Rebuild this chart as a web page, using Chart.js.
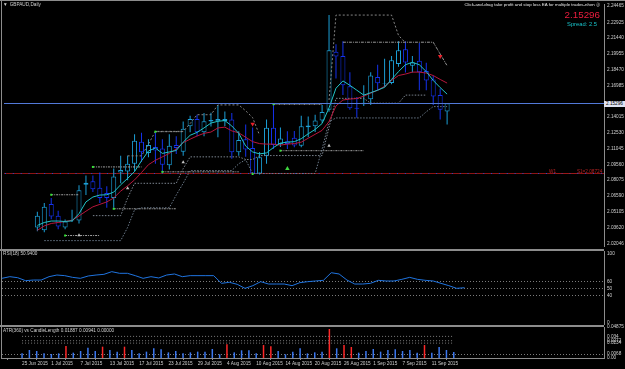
<!DOCTYPE html>
<html>
<head>
<meta charset="utf-8">
<title>GBPAUD,Daily</title>
<script src="https://cdn.jsdelivr.net/npm/chart.js@4.4.1/dist/chart.umd.min.js"></script>
<style>
  html, body { margin: 0; padding: 0; background: #000; }
  #wrap { position: relative; width: 625px; height: 369px; background: #000; overflow: hidden;
          font-family: "Liberation Sans", Arial, "DejaVu Sans", sans-serif; }
  #wrap canvas { position: absolute; left: 0; }
  .txt { position: absolute; white-space: nowrap; font-size: 4.7px; line-height: 1; color: #cfcfcf; }
  .rule { position: absolute; background: #8c8c8c; }
</style>
</head>
<body>
<div id="wrap">
  <canvas id="mainChart" width="625" height="250" style="top:0"></canvas>
  <canvas id="rsiChart" width="625" height="74" style="top:251px"></canvas>
  <canvas id="atrChart" width="625" height="49" style="top:320px"></canvas>

  <div class="rule" style="left:0;top:0;width:625px;height:1px"></div>
  <div class="rule" style="left:1px;top:0;width:1px;height:359px"></div>
  <div class="rule" style="left:0;top:249px;width:604px;height:2px"></div>
  <div class="rule" style="left:0;top:325px;width:604px;height:2px"></div>

  <div class="txt" style="left:3px;top:2.7px"><span style="margin-right:2px">▼</span>GBPAUD,Daily</div>
  <div class="txt" style="right:25px;top:2.7px;font-size:4.4px;color:#e6e6e6">Click-and-drag take profit and stop loss EA for multiple trades-nhen ⓢ</div>
  <div class="txt" style="right:25px;top:10px;font-size:9.8px;color:#ee1d3f">2.15296</div>
  <div class="txt" style="right:28px;top:22.2px;font-size:5.8px;color:#18c2c9">Spread: 2.5</div>
  <div class="txt" style="left:549px;top:170px;color:#b42222">W1________S1=2.08724</div>
  <div class="txt" style="left:604px;top:101.3px;width:21px;height:5.6px;line-height:5.6px;padding-left:2px;box-sizing:border-box;background:#dfe3f2;color:#000">2.15296</div>
  <div class="txt" style="left:3px;top:252.2px">RSI(18) 50.9400</div>
  <div class="txt" style="left:3px;top:328.7px">ATR(360) vs CandleLength 0.01887 0.00941 0.00000</div>
</div>

<script>
const _ = null;

// daily bars
const dates = ['25 Jun 2015','26 Jun 2015','29 Jun 2015','30 Jun 2015','1 Jul 2015','2 Jul 2015','3 Jul 2015','6 Jul 2015','7 Jul 2015','8 Jul 2015',
  '9 Jul 2015','10 Jul 2015','13 Jul 2015','14 Jul 2015','15 Jul 2015','16 Jul 2015','17 Jul 2015','20 Jul 2015','21 Jul 2015','22 Jul 2015',
  '23 Jul 2015','24 Jul 2015','27 Jul 2015','28 Jul 2015','29 Jul 2015','30 Jul 2015','31 Jul 2015','3 Aug 2015','4 Aug 2015','5 Aug 2015',
  '6 Aug 2015','7 Aug 2015','10 Aug 2015','11 Aug 2015','12 Aug 2015','13 Aug 2015','14 Aug 2015','17 Aug 2015','18 Aug 2015','19 Aug 2015',
  '20 Aug 2015','21 Aug 2015','24 Aug 2015','25 Aug 2015','26 Aug 2015','27 Aug 2015','28 Aug 2015','31 Aug 2015','1 Sep 2015','2 Sep 2015',
  '3 Sep 2015','4 Sep 2015','7 Sep 2015','8 Sep 2015','9 Sep 2015','10 Sep 2015','11 Sep 2015','14 Sep 2015','15 Sep 2015','16 Sep 2015'];
const dateTickBars = [0, 4, 8, 12, 16, 20, 24, 28, 32, 36, 40, 44, 48, 52, 56];

const opens = [2.03614, 2.03337, 2.05828, 2.04721, 2.03614, 2.04260, 2.04260, 2.07628, 2.07950, 2.07351,
  2.06843, 2.06382, 2.08781, 2.08873, 2.09611, 2.11687, 2.10626, 2.11180, 2.11041, 2.09473,
  2.11364, 2.10746, 2.13145, 2.13809, 2.12563, 2.13578, 2.13606, 2.13624, 2.13763, 2.10691,
  2.11918, 2.11087, 2.08689, 2.10349, 2.12997, 2.11456, 2.11733, 2.12056, 2.11300, 2.13052,
  2.13145, 2.13671, 2.14685, 2.20156, 2.19760, 2.16900, 2.14870, 2.15211, 2.15673, 2.17776,
  2.17130, 2.17204, 2.18994, 2.20378, 2.18837, 2.19298, 2.18330, 2.17546, 2.16069, 2.14529];
const highs = [2.05090, 2.05921, 2.06382, 2.05183, 2.04352, 2.05275, 2.07581, 2.08504, 2.08504, 2.08781,
  2.07489, 2.09150, 2.10349, 2.10349, 2.12379, 2.12536, 2.11918, 2.12517, 2.11918, 2.12379,
  2.12194, 2.13578, 2.14132, 2.14224, 2.14381, 2.14409, 2.15147, 2.14529, 2.14381, 2.12656,
  2.13302, 2.13025, 2.10718, 2.13763, 2.15147, 2.13025, 2.12656, 2.12683, 2.14132, 2.14067,
  2.14224, 2.15147, 2.23607, 2.20867, 2.21144, 2.18219, 2.15885, 2.16992, 2.18219, 2.18929,
  2.19483, 2.19760, 2.21144, 2.21144, 2.19760, 2.20987, 2.19114, 2.17915, 2.16687, 2.15296];
const lows = [2.03245, 2.03153, 2.04380, 2.03430, 2.03430, 2.04122, 2.03983, 2.06659, 2.06936, 2.05921,
  2.05459, 2.05459, 2.07766, 2.08043, 2.08873, 2.09768, 2.10229, 2.09611, 2.08781, 2.09058,
  2.10534, 2.10349, 2.12563, 2.12194, 2.12194, 2.13117, 2.12102, 2.13145, 2.10072, 2.10349,
  2.10257, 2.08642, 2.08596, 2.09611, 2.10995, 2.11180, 2.10995, 2.11152, 2.11152, 2.12102,
  2.12591, 2.13458, 2.14501, 2.17638, 2.16069, 2.14685, 2.13947, 2.15054, 2.15147, 2.16531,
  2.16807, 2.17084, 2.18745, 2.18191, 2.18191, 2.16531, 2.16531, 2.15147, 2.13763, 2.13302];
const closes = [2.04721, 2.05552, 2.04629, 2.03707, 2.04168, 2.04325, 2.07120, 2.07812, 2.07212, 2.06382,
  2.06382, 2.08412, 2.09011, 2.09611, 2.11761, 2.10691, 2.11364, 2.10857, 2.09519, 2.11300,
  2.11087, 2.12905, 2.13827, 2.12563, 2.13606, 2.13717, 2.13809, 2.13809, 2.10691, 2.11853,
  2.10949, 2.08689, 2.10229, 2.12997, 2.11364, 2.11982, 2.11456, 2.11318, 2.13145, 2.13209,
  2.13671, 2.14473, 2.20286, 2.19695, 2.16992, 2.14842, 2.14796, 2.15359, 2.17915, 2.17176,
  2.17195, 2.19363, 2.20286, 2.19142, 2.19142, 2.18219, 2.17453, 2.15931, 2.14685, 2.15296];

// moving averages
const maFast = [2.03799, 2.04076, 2.04214, 2.04214, 2.04168, 2.04232, 2.04906, 2.06013, 2.06474, 2.06659,
  2.06687, 2.06936, 2.07628, 2.08227, 2.08873, 2.09888, 2.10811, 2.11087, 2.10580, 2.10718,
  2.10857, 2.11641, 2.12287, 2.12563, 2.12979, 2.13440, 2.13606, 2.13671, 2.13163, 2.12471,
  2.11272, 2.10718, 2.10534, 2.10626, 2.11133, 2.11549, 2.11641, 2.11687, 2.11964, 2.12425,
  2.12840, 2.13394, 2.14870, 2.16715, 2.17407, 2.16992, 2.16531, 2.16069, 2.16300, 2.16531,
  2.16807, 2.17546, 2.18284, 2.18929, 2.19160, 2.18929, 2.18284, 2.17453, 2.16780, 2.16162];
const maSlow = [2.03337, 2.03753, 2.03983, 2.04076, 2.04168, 2.04288, 2.04694, 2.05137, 2.05552, 2.05782,
  2.06013, 2.06382, 2.07028, 2.07535, 2.08089, 2.08781, 2.09519, 2.09934, 2.10257, 2.10580,
  2.10995, 2.11595, 2.11918, 2.12222, 2.12471, 2.12591, 2.12979, 2.13052, 2.12702, 2.12517,
  2.12102, 2.11687, 2.11502, 2.11456, 2.11456, 2.11364, 2.11456, 2.11502, 2.11641, 2.12010,
  2.12379, 2.12748, 2.13578, 2.15054, 2.15608, 2.15700, 2.15746, 2.15977, 2.16254, 2.16531,
  2.16900, 2.17453, 2.17915, 2.18053, 2.18237, 2.18237, 2.18145, 2.17915, 2.17546, 2.17204];

// stepped trailing lines
const trailUpper = [_,_,_,_,_,_,_,_,_,_,
  _,_,_,2.10349,2.10349,2.10349,2.11456,2.12656,2.12656,2.12656,
  2.12656,2.12656,2.13394,2.14224,2.14224,2.14224,2.15147,2.15147,2.15147,2.15147,
  2.14593,2.13947,2.12287,_,_,_,_,_,_,_,
  _,_,_,_,_,_,_,_,_,_,
  _,_,_,_,_,_,_,_,_,_];
const stopUpper = [_,_,_,_,_,_,_,_,_,_,
  _,_,_,_,_,_,_,_,_,_,
  _,_,_,_,_,_,_,_,_,_,
  _,_,_,_,_,_,_,_,_,_,
  _,_,2.15608,2.23607,2.23607,2.23607,2.23607,2.23607,2.23607,2.23607,
  2.23607,2.23607,2.21697,2.20997,_,_,_,_,_,_];
const bandUpper = [_,_,_,_,_,_,_,_,_,_,
  _,_,_,_,_,_,_,_,_,_,
  _,_,_,_,_,_,_,_,_,_,
  _,_,_,_,_,_,_,_,_,_,
  _,_,_,_,2.21051,2.21051,2.21051,2.21051,2.21051,2.21051,
  2.21051,2.21051,2.21051,2.21051,2.21051,2.21051,2.21051,2.21051,2.19944,2.18837];
const supportA = [_,_,_,_,_,_,_,_,2.04721,2.04721,
  2.04721,2.04721,2.04721,2.06382,2.07766,2.07766,2.07766,2.07766,2.07766,2.07766,
  2.07766,2.09150,2.10257,2.10257,2.10257,2.10257,2.10257,2.10257,2.10257,2.10257,
  2.10008,2.10008,2.10377,2.10377,2.10377,2.10377,2.10377,2.10377,2.10377,2.10377,
  2.10377,2.10377,2.13025,2.15765,2.15765,2.15765,2.15765,2.15765,2.15304,2.15304,
  2.15304,2.15304,2.15304,2.16069,2.16069,2.16069,2.16069,_,_,_];
const supportB = [_,2.02369,2.02369,2.02369,2.02369,2.02369,2.02369,2.02369,2.02369,2.02369,
  2.02369,2.02369,2.02369,2.03614,2.05275,2.05459,2.05459,2.05459,2.05459,2.05459,
  2.06659,2.07766,2.08965,2.08965,2.08965,2.08965,2.08965,2.08965,2.08965,2.09611,
  2.09980,2.08689,2.08689,2.08689,2.08689,2.08689,2.08689,2.08689,2.08689,2.08689,
  2.08689,2.10995,2.13578,2.13920,2.13920,2.13920,2.13920,2.13920,2.13920,2.13920,
  2.13920,2.13920,2.13920,2.13920,2.13920,2.13920,2.14501,2.14990,2.14990,2.14990];

// fractal levels and signals
const levelFrom = [2, 4, 8, 11, 17, 18, 34, 35];
const levelTo = [6, 9, 15, 20, 21, 29, 41, 47];
const levelPrice = [2.06687, 2.02848, 2.09307, 2.05367, 2.12628, 2.08845, 2.15211, 2.10838];
const signalBars = [2, 4, 8, 11, 17, 18, 31, 34, 35];
const signalPrices = [2.06687, 2.02848, 2.09307, 2.05367, 2.12628, 2.08845, 2.08642, 2.15211, 2.10838];
const sellBars = [31, 58];
const sellPrices = [2.13348, 2.19714];
const buyBars = [36];
const buyPrices = [2.09150];
const stopBars = [6, 13, 21, 42];
const stopPrices = [2.02876, 2.07305, 2.09750, 2.11300];

const bidPrice = 2.15296;
const pivotS1 = 2.08724;
const priceTicks = [2.02046, 2.03620, 2.05105, 2.06590, 2.08075, 2.09560, 2.11045, 2.12530, 2.14015,
  2.16985, 2.18470, 2.19955, 2.21440, 2.22925, 2.24465];

// RSI(18)
const rsi = [64.6, 67.0, 65.5, 61.2, 62.1, 62.1, 67.0, 69.4, 68.5, 66.0,
  64.6, 68.0, 69.4, 70.4, 74.3, 71.9, 71.9, 68.5, 64.6, 67.0,
  65.1, 69.4, 70.9, 67.0, 68.5, 68.5, 68.5, 68.5, 57.3, 58.8,
  55.9, 50.0, 53.9, 59.7, 56.3, 56.3, 56.3, 53.9, 58.3, 59.7,
  60.7, 61.7, 72.8, 70.9, 62.1, 56.3, 56.3, 57.3, 61.7, 60.7,
  60.7, 63.1, 66.0, 63.1, 61.7, 60.7, 57.3, 53.9, 50.0, 50.94];
const rsiLevels = [60, 50, 40];
const rsiTicks = [0, 40, 50, 60, 100];

// ATR vs candle length
const candleLen = [0.0073, 0.0126, 0.0110, 0.0073, 0.0063, 0.0073, 0.0189, 0.0084, 0.0110, 0.0163,
  0.0110, 0.0178, 0.0126, 0.0100, 0.0178, 0.0126, 0.0073, 0.0100, 0.0152, 0.0136,
  0.0089, 0.0110, 0.0073, 0.0089, 0.0100, 0.0100, 0.0142, 0.0058, 0.0215, 0.0089,
  0.0121, 0.0121, 0.0073, 0.0204, 0.0184, 0.0110, 0.0058, 0.0100, 0.0152, 0.0073,
  0.0089, 0.0100, 0.0456, 0.0152, 0.0204, 0.0173, 0.0084, 0.0110, 0.0142, 0.0100,
  0.0126, 0.0136, 0.0110, 0.0126, 0.0084, 0.0204, 0.0084, 0.0173, 0.0126, 0.00941];
const bigCandleBars = [6, 11, 14, 28, 33, 34, 42, 44, 45, 55];
const atrBands = [0.0340, 0.0272, 0.0234];
const atrFloor = 0.0068;
const atrTicks = [0, 0.0068, 0.0234, 0.0272, 0.0340, 0.04875];

// ---------------------------------------------------------------
Chart.defaults.font.family = '"Liberation Sans", Arial, sans-serif';
const GRID = '#8c8c8c';
const LABEL = '#cfcfcf';
const BULL = '#1c9fd6';
const BEAR = '#1432ee';
const X_MAX = 76.79;   // chart width / bar spacing

const pts = arr => arr.map((v, i) => ({x: i, y: v}));
const isUp = i => closes[i] >= opens[i];

function rightAxis(min, max, tickValues, fmt) {
  return {
    position: 'right', min: min, max: max,
    afterFit: s => { s.width = 21; s.paddingTop = 0; s.paddingBottom = 0; },
    afterBuildTicks: s => { s.ticks = tickValues.map(v => ({value: v})); },
    grid: {display: false, drawTicks: false},
    border: {display: true, color: GRID, width: 1},
    ticks: {color: LABEL, font: {size: 4.7}, padding: 3, autoSkip: false, callback: fmt}
  };
}

const baseOptions = (padding, scales) => ({
  responsive: false, animation: false, events: [],
  layout: {padding: padding},
  plugins: {legend: {display: false}, tooltip: {enabled: false}},
  scales: scales
});

const dotted = (arr, color, dash) => ({
  type: 'line', data: pts(arr), borderColor: color, borderWidth: 1, borderDash: dash,
  pointRadius: 0, spanGaps: false, order: 2
});
const marker = (bars, prices, style, color, radius, rotation) => ({
  type: 'line', data: bars.map((b, k) => ({x: b, y: prices[k]})), showLine: false,
  pointStyle: style, pointRadius: radius, pointRotation: rotation,
  pointBackgroundColor: color, pointBorderColor: color, pointBorderWidth: 0, order: 1
});

const priceLines = {
  id: 'priceLines',
  beforeDatasetsDraw(chart) {
    const {ctx, chartArea: a, scales: {y}} = chart;
    const py = Math.round(y.getPixelForValue(pivotS1)) + 0.5;
    ctx.save();
    ctx.lineWidth = 1;
    ctx.strokeStyle = '#8e1414';
    ctx.beginPath(); ctx.moveTo(a.left, py); ctx.lineTo(a.right, py); ctx.stroke();
    ctx.setLineDash([1, 6.84]);
    ctx.strokeStyle = '#2a48d0';
    ctx.beginPath(); ctx.moveTo(a.left + 1, py); ctx.lineTo(a.right, py); ctx.stroke();
    ctx.restore();
  },
  afterDatasetsDraw(chart) {
    const {ctx, chartArea: a, scales: {y}} = chart;
    const py = Math.round(y.getPixelForValue(bidPrice)) + 0.5;
    ctx.save();
    ctx.lineWidth = 1;
    ctx.strokeStyle = '#5279d8';
    ctx.beginPath(); ctx.moveTo(a.left, py); ctx.lineTo(a.right, py); ctx.stroke();
    ctx.restore();
  }
};

const levelSets = levelFrom.map((from, k) => ({
  type: 'line',
  data: [{x: from, y: levelPrice[k]}, {x: levelTo[k], y: levelPrice[k]}],
  borderColor: '#a2a2a2', borderWidth: 1, borderDash: [2, 1, 1, 1], pointRadius: 0, order: 2
}));

new Chart(document.getElementById('mainChart'), {
  type: 'line',
  data: {
    datasets: [
      marker(signalBars, signalPrices, 'rect', '#35e635', 1.4, 0),
      marker(sellBars, sellPrices, 'triangle', '#e8202a', 2.6, 180),
      marker(buyBars, buyPrices, 'triangle', '#3fd63f', 2.6, 0),
      marker(stopBars, stopPrices, 'triangle', '#c4c4c4', 2, 0),
      {type: 'line', data: pts(maFast), borderColor: '#22c4c8', borderWidth: 1, pointRadius: 0, order: 2},
      {type: 'line', data: pts(maSlow), borderColor: '#b8163c', borderWidth: 1, pointRadius: 0, order: 2},
      dotted(trailUpper, '#858585', [2, 2]),
      dotted(stopUpper, '#858585', [2, 2]),
      dotted(bandUpper, '#969696', [3, 1, 1, 1]),
      dotted(supportA, '#7c8590', [1.5, 1.5]),
      dotted(supportB, '#6b7a8a', [1.5, 1.5]),
      ...levelSets,
      {
        type: 'bar', data: opens.map((o, i) => ({x: i, y: [o, closes[i]]})),
        grouped: false, barThickness: 5, borderWidth: 1, borderSkipped: false, inflateAmount: 0,
        backgroundColor: '#000', borderColor: c => isUp(c.dataIndex) ? BULL : BEAR, order: 3
      },
      {
        type: 'bar', data: lows.map((l, i) => ({x: i, y: [l, highs[i]]})),
        grouped: false, barThickness: 1, borderWidth: 0, inflateAmount: 0,
        backgroundColor: c => isUp(c.dataIndex) ? BULL : BEAR, order: 4
      }
    ]
  },
  options: baseOptions({left: 2, top: 2, bottom: 1, right: 0}, {
    x: {type: 'linear', min: 0, max: X_MAX, display: false},
    y: rightAxis(2.01862, 2.24649, priceTicks, v => v.toFixed(5))
  }),
  plugins: [priceLines]
});

const rsiLevelLines = {
  id: 'rsiLevelLines',
  beforeDatasetsDraw(chart) {
    const {ctx, chartArea: a, scales: {y}} = chart;
    ctx.save();
    ctx.lineWidth = 1;
    ctx.strokeStyle = '#7a7a7a';
    ctx.setLineDash([1, 2]);
    rsiLevels.forEach(v => {
      const py = Math.round(y.getPixelForValue(v)) + 0.5;
      ctx.beginPath(); ctx.moveTo(a.left, py); ctx.lineTo(a.right, py); ctx.stroke();
    });
    ctx.restore();
  }
};

new Chart(document.getElementById('rsiChart'), {
  type: 'line',
  data: {
    datasets: [{data: pts(rsi), borderColor: '#1f74e0', borderWidth: 1, pointRadius: 0}]
  },
  options: baseOptions({left: 2, top: 0, bottom: 0, right: 0}, {
    x: {type: 'linear', min: 0, max: X_MAX, display: false},
    y: rightAxis(-3.35, 104.37, rsiTicks, v => String(v))
  }),
  plugins: [rsiLevelLines]
});

const atrFloorLine = {
  id: 'atrFloorLine',
  beforeDatasetsDraw(chart) {
    const {ctx, chartArea: a, scales: {y}} = chart;
    const py = Math.round(y.getPixelForValue(atrFloor)) + 0.5;
    ctx.save();
    ctx.lineWidth = 1;
    ctx.strokeStyle = '#7a7a7a';
    ctx.setLineDash([1, 2]);
    ctx.beginPath(); ctx.moveTo(a.left, py); ctx.lineTo(a.right, py); ctx.stroke();
    ctx.restore();
  }
};

const lastBar = dates.length - 1;
new Chart(document.getElementById('atrChart'), {
  type: 'line',
  data: {
    datasets: [
      ...atrBands.map(v => ({
        type: 'line', data: [{x: 0, y: v}, {x: lastBar, y: v}],
        borderColor: '#7a7a7a', borderWidth: 1, borderDash: [1, 2], pointRadius: 0, order: 1
      })),
      {
        type: 'bar', data: pts(candleLen), grouped: false, barThickness: 1.5, borderWidth: 0,
        inflateAmount: 0,
        backgroundColor: c => bigCandleBars.includes(c.dataIndex) ? '#ff2828' : '#3c78f0', order: 2
      }
    ]
  },
  options: baseOptions({left: 2, top: 7, bottom: 0, right: 0}, {
    x: {
      type: 'linear', min: 0, max: X_MAX, position: 'bottom',
      afterFit: s => { s.height = 11; s.paddingLeft = 0; s.paddingRight = 0; },
      afterBuildTicks: s => { s.ticks = dateTickBars.map(v => ({value: v})); },
      grid: {display: true, drawOnChartArea: false, drawTicks: true, tickLength: 2, color: GRID},
      border: {display: true, color: GRID, width: 1},
      ticks: {color: LABEL, font: {size: 4.7}, padding: 1, align: 'start', autoSkip: false,
              maxRotation: 0, minRotation: 0, callback: v => dates[v] || ''}
    },
    y: rightAxis(0, 0.04875, atrTicks, v => v === 0 ? '0.00' : String(v))
  }),
  plugins: [atrFloorLine]
});
</script>
</body>
</html>
